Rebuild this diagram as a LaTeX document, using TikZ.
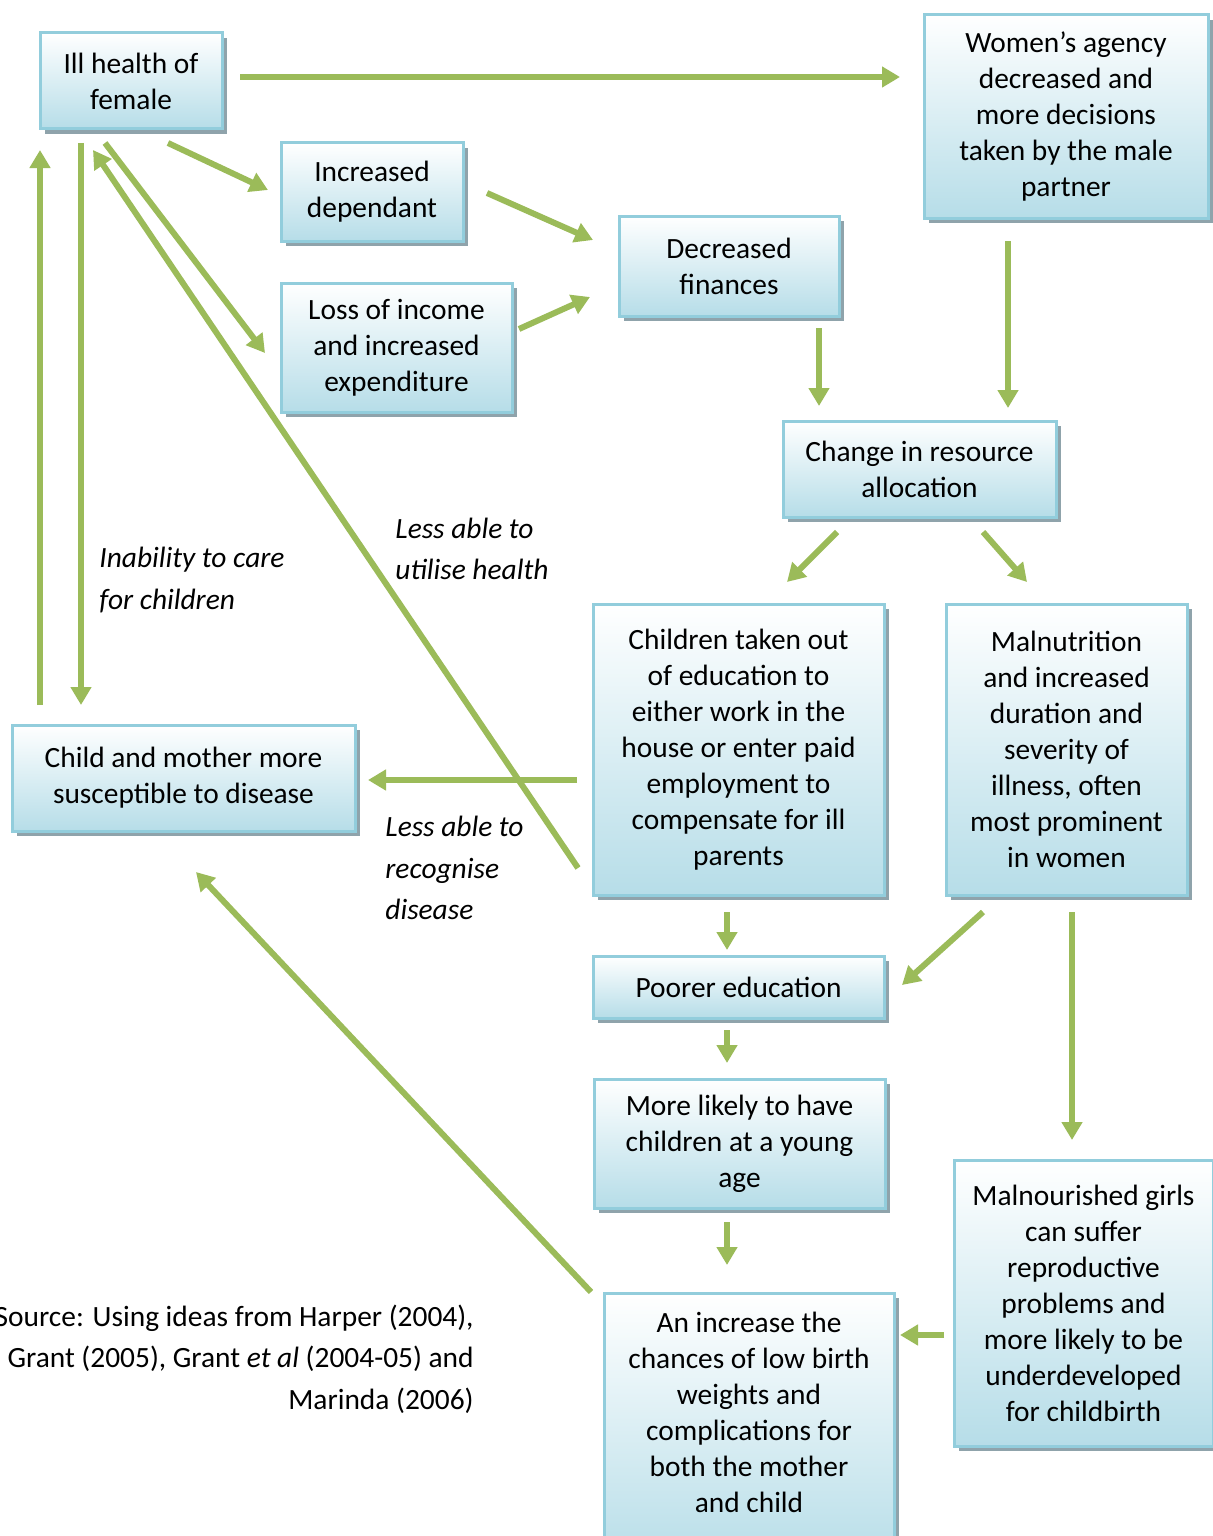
\documentclass[tikz,border=0pt]{standalone}
\usepackage{fontspec}
\setmainfont{Carlito}
\usetikzlibrary{arrows.meta,shadows}

\definecolor{boxblue}{HTML}{B6DDE8}
\definecolor{boxedge}{HTML}{92CDDC}
\definecolor{arrgreen}{HTML}{9BBB59}
\definecolor{shadowgrey}{HTML}{8FA3AB}

\begin{document}
\begin{tikzpicture}[
		x=0.5pt, y=-0.5pt,
		box/.style = {
			draw=boxedge, line width=1.5pt,
			top color=white, bottom color=boxblue,
			rectangle, align=center,
			inner sep=0pt, outer sep=0pt,
			font=\fontsize{14.7}{18}\selectfont,
			drop shadow={shadow xshift=2.5pt, shadow yshift=-2.5pt, fill=shadowgrey, opacity=1}
			},
		note/.style = {
			font=\fontsize{14.7}{20.6}\selectfont\itshape,
			inner sep=0pt, align=left
			},
		arr/.style = {
			draw=arrgreen, line width=3pt,
			-{Triangle[width=10pt,length=9pt]}
			}
		]
		\useasboundingbox (0,0) rectangle (1213,1536);
		
		% boxes
		\node [box, minimum width=91pt, minimum height=48pt] (ill) at (131,81) {Ill health of\\female};
		\node [box, minimum width=142pt, minimum height=101.5pt] (women) at (1066,116.5) {Women's agency\\decreased and\\more decisions\\taken by the male\\partner};
		\node [box, minimum width=91pt, minimum height=49pt] (dep) at (372,192) {Increased\\dependant};
		\node [box, minimum width=115.5pt, minimum height=64.5pt] (loss) at (396.5,347.5) {Loss of income\\and increased\\expenditure};
		\node [box, minimum width=110pt, minimum height=50pt] (fin) at (729,266) {Decreased\\finances};
		\node [box, minimum width=136.5pt, minimum height=48pt] (change) at (919.5,469) {Change in resource\\allocation};
		\node [box, minimum width=145.5pt, minimum height=145.5pt] (taken) at (738.5,749.5) {Children taken out\\of education to\\either work in the\\house or enter paid\\employment to\\compensate for ill\\parents};
		\node [box, minimum width=120.5pt, minimum height=145.5pt] (maln) at (1066.5,749.5) {Malnutrition\\and increased\\duration and\\severity of\\illness, often\\most prominent\\in women};
		\node [box, minimum width=171.5pt, minimum height=53pt] (susc) at (183.5,778) {Child and mother more\\susceptible to disease};
		\node [box, minimum width=145.5pt, minimum height=31pt] (poor) at (738.5,987) {Poorer education};
		\node [box, minimum width=145.5pt, minimum height=64.5pt] (young) at (739.5,1143.5) {More likely to have\\children at a young\\age};
		\node [box, minimum width=129.5pt, minimum height=143pt] (girls) at (1083.5,1303) {Malnourished girls\\can suffer\\reproductive\\problems and\\more likely to be\\underdeveloped\\for childbirth};
		\node [box, minimum width=145pt, minimum height=137pt] (birth) at (749,1430) {An increase the\\chances of low birth\\weights and\\complications for\\both the mother\\and child\\\mbox{}};
		
		% labels
		\node [note, anchor=west] (care) at (99,580) {Inability to care\\for children};
		\node [note, anchor=west] (util) at (395,549) {Less able to\\utilise health};
		\node [note, anchor=west] (recog) at (385,868) {Less able to\\recognise\\disease};
		\node [note, anchor=east, align=right, font=\fontsize{14.7}{20.8}\selectfont] (src) at (474,1359) {Source: Using ideas from Harper (2004),\\Grant (2005), Grant \textit{et al} (2004-05) and\\Marinda (2006)};
		
		% connectors
		\draw[arr] ([shift={(18,-4)}]ill.east) -- ([shift={(-24,-39.5)}]women.west);
		\draw[arr] ([shift={(37,14)}]ill.south) -- ([shift={(-13,-2)}]dep.west);
		\draw[arr] ([shift={(-26,14)}]ill.south) -- ([shift={(-16,5.5)}]loss.west);
		\draw[arr] ([shift={(-15,118.5)}]taken.west) -- ([shift={(-38,21)}]ill.south);
		\draw[arr] ([shift={(-50,14)}]ill.south) -- ([shift={(-102.5,-20)}]susc.north);
		\draw[arr] ([shift={(-143.5,-20)}]susc.north) -- ([shift={(-91,21)}]ill.south);
		\draw[arr] ([shift={(24,1)}]dep.east) -- ([shift={(-26,-26)}]fin.west);
		\draw[arr] ([shift={(7,-18.5)}]loss.east) -- ([shift={(-29,31)}]fin.west);
		\draw[arr] ([shift={(90,12)}]fin.south) -- ([shift={(-100.5,-15)}]change.north);
		\draw[arr] ([shift={(-58,23)}]women.south) -- ([shift={(88.5,-13)}]change.north);
		\draw[arr] ([shift={(-82.5,15)}]change.south) -- ([shift={(48.5,-22)}]taken.north);
		\draw[arr] ([shift={(63.5,15)}]change.south) -- ([shift={(-39.5,-22)}]maln.north);
		\draw[arr] ([shift={(-16,30.5)}]taken.west) -- ([shift={(13,2)}]susc.east);
		\draw[arr] ([shift={(-11.5,17)}]taken.south) -- ([shift={(-11.5,-6)}]poor.north);
		\draw[arr] ([shift={(-83.5,17)}]maln.south) -- ([shift={(18,-2)}]poor.east);
		\draw[arr] ([shift={(-11.5,12)}]poor.south) -- ([shift={(-12.5,-16)}]young.north);
		\draw[arr] ([shift={(-12.5,14)}]young.south) -- ([shift={(-22,-28)}]birth.north);
		\draw[arr] ([shift={(5.5,17)}]maln.south) -- ([shift={(-11.5,-20)}]girls.north);
		\draw[arr] ([shift={(-10,32)}]girls.west) -- ([shift={(6,-95)}]birth.east);
		\draw[arr] ([shift={(-13,-138)}]birth.west) -- ([shift={(12.5,41)}]susc.south);
		
	\end{tikzpicture}
\end{document}
